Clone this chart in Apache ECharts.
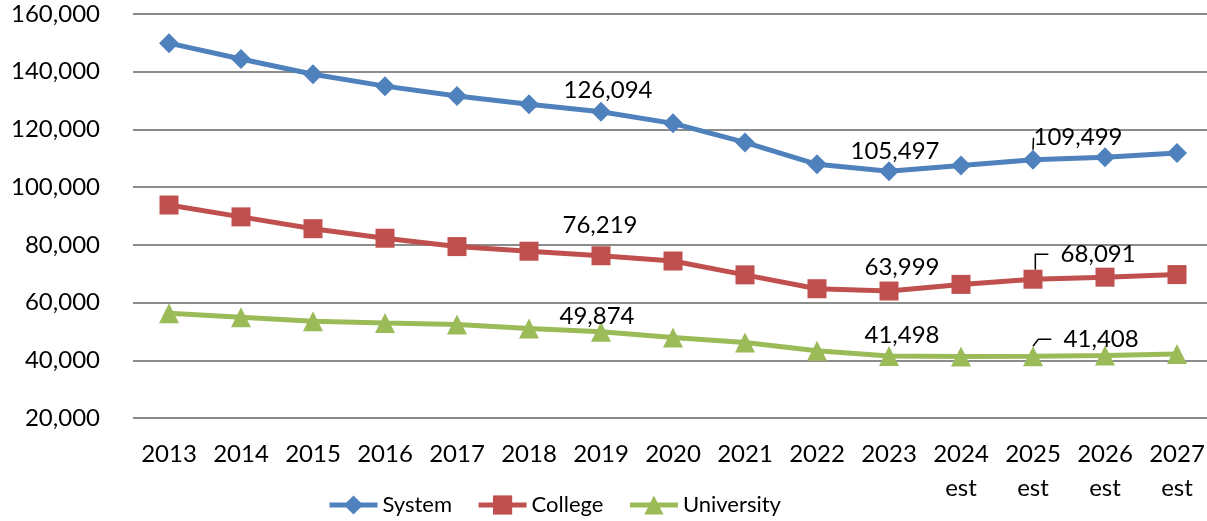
<!DOCTYPE html>
<html lang="en">
<head>
    <meta charset="UTF-8">
    <title>Enrollment</title>
    <script src="https://cdn.jsdelivr.net/npm/echarts@6/dist/echarts.min.js"></script>
    <style>
        * { margin: 0; padding: 0 }
        html, body { width: 100%; height: 100%; background: #fff; }
        #main { width: 1207px; height: 521px; }
    </style>
</head>
<body>
<div id="main"></div>
<script type="text/javascript">
    // data
    var years = ['2013', '2014', '2015', '2016', '2017', '2018', '2019', '2020', '2021', '2022', '2023',
        '2024\nest', '2025\nest', '2026\nest', '2027\nest'];
    var system = [149900, 144400, 139100, 135000, 131600, 128700, 126094, 122100, 115500, 107900, 105497,
        107500, 109499, 110400, 111800];
    var college = [93800, 89700, 85600, 82300, 79400, 77800, 76219, 74400, 69600, 64800, 63999,
        66300, 68091, 68800, 69700];
    var university = [56300, 54900, 53500, 52900, 52400, 51000, 49874, 47900, 46200, 43300, 41498,
        41300, 41408, 41700, 42200];
    var labelled = [6, 10, 12];   // points that carry a value label
    var leader = 12;              // the one with a leader line

    var FONT = 'Lato';
    var fmt = function (v) { return Number(v).toLocaleString('en-US'); };

    // label centre relative to the point, px
    var shifts = {
        System: {6: [7, -22], 10: [6, -20], 12: [45, -22]},
        College: {6: [-1, -31], 10: [13, -24], 12: [59, -25]},
        University: {6: [-4, -16], 10: [13, -21], 12: [62, -17]}
    };
    var leaderLen = {System: 0, College: 13, University: 13};

    function build(name, values) {
        return values.map(function (v, i) {
            if (labelled.indexOf(i) < 0) return v;
            var item = {value: v, label: {show: true}};
            if (i === leader) {
                item.labelLine = {show: true, length2: leaderLen[name], lineStyle: {color: '#000', width: 1.5}};
            }
            return item;
        });
    }

    function line(name, values, color, symbol, size) {
        return {
            name: name,
            type: 'line',
            data: build(name, values),
            symbol: symbol,
            symbolSize: size,
            showAllSymbol: true,
            lineStyle: {color: color, width: 5},
            itemStyle: {color: color},
            label: {
                show: false,
                position: 'inside',
                align: 'center',
                verticalAlign: 'middle',
                color: '#000',
                fontFamily: FONT,
                fontSize: 24,
                formatter: function (p) {
                    // a little gap between the leader line and the number
                    var gap = (p.dataIndex === leader && leaderLen[name] > 0) ? '  ' : '';
                    return gap + fmt(p.value);
                }
            },
            labelLayout: function (params) {
                var s = shifts[name][params.dataIndex];
                if (s) return {dx: s[0], dy: s[1]};
            },
            animation: false
        };
    }

    var myChart = echarts.init(document.getElementById('main'));
    var option = {
        animation: false,
        grid: {left: 133, right: -6, top: 14, bottom: 103, containLabel: false, outerBoundsMode: 'none'},
        legend: {
            left: 322,
            top: 489,
            itemWidth: 48,
            itemHeight: 24,
            itemGap: 24,
            lineStyle: {width: 5},
            textStyle: {fontFamily: FONT, fontSize: 22, color: '#000'},
            data: ['System', 'College', 'University']
        },
        xAxis: {
            type: 'category',
            data: years,
            boundaryGap: true,
            axisLine: {show: false},
            axisTick: {show: false},
            axisLabel: {
                interval: 0,
                margin: 19,
                color: '#000',
                fontFamily: FONT,
                fontSize: 24,
                lineHeight: 34
            }
        },
        yAxis: {
            type: 'value',
            min: 20000,
            max: 160000,
            interval: 20000,
            axisLine: {show: false},
            axisTick: {show: false},
            splitLine: {lineStyle: {color: '#8c8c8c', width: 2}},
            axisLabel: {
                margin: 33,
                color: '#000',
                fontFamily: FONT,
                fontSize: 24,
                formatter: fmt
            }
        },
        series: [
            line('System', system, '#4F81BD', 'diamond', 20),
            line('College', college, '#C0504D', 'rect', 19),
            line('University', university, '#9BBB59', 'triangle', 20)
        ]
    };
    myChart.setOption(option);
</script>
</body>
</html>
